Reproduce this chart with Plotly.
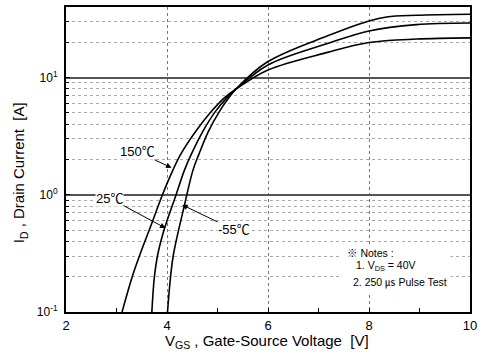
import math
import plotly.graph_objects as go

# Transfer characteristics: drain current vs gate-source voltage
vgs_m55 = [4.01, 4.07, 4.13, 4.35, 4.51, 4.63, 4.82, 5.04, 5.22, 5.38, 6.0, 7.18, 8.0, 8.35, 8.94, 10.0]
id_m55 = [0.1, 0.199, 0.314, 0.831, 1.60, 2.21, 3.48, 5.15, 6.68, 8.11, 13.7, 22.7, 30.4, 32.9, 34.0, 34.7]

vgs_25 = [3.70, 3.75, 3.82, 3.95, 4.18, 4.34, 4.48, 4.71, 4.96, 5.18, 5.39, 6.0, 7.18, 8.0, 8.94, 10.0]
id_25 = [0.1, 0.199, 0.314, 0.515, 1.0, 1.60, 2.21, 3.48, 5.15, 6.68, 8.11, 12.8, 19.5, 25.0, 28.3, 29.2]

vgs_150 = [3.11, 3.31, 3.47, 3.66, 3.91, 4.11, 4.27, 4.57, 4.88, 5.13, 5.39, 6.0, 7.18, 8.0, 8.94, 10.0]
id_150 = [0.1, 0.199, 0.314, 0.515, 1.0, 1.60, 2.21, 3.48, 5.15, 6.68, 8.11, 11.6, 16.4, 19.9, 21.3, 21.8]

x_ticks = [2, 4, 6, 8, 10]
x_minor = [3, 5, 7, 9]
y_ticks = [0.1, 1, 10]
y_ticktext = ["10<sup>-1</sup>", "10<sup>0</sup>", "10<sup>1</sup>"]
y_minor = [0.2, 0.3, 0.4, 0.5, 0.6, 0.7, 0.8, 0.9,
           2, 3, 4, 5, 6, 7, 8, 9,
           20, 30, 40]

FONT = "Liberation Sans, Arial, Noto Sans CJK KR, sans-serif"

fig = go.Figure()
for xs, ys in [(vgs_m55, id_m55), (vgs_25, id_25), (vgs_150, id_150)]:
    fig.add_trace(go.Scatter(
        x=xs, y=ys, mode="lines",
        line=dict(color="black", width=1.6, shape="spline", smoothing=1.0),
        showlegend=False, hoverinfo="skip",
    ))

# temperature labels with arrows pointing to their curves
labels = [
    ("150\u2103", 4.09, 1.70, -34, -16),
    ("25\u2103", 3.97, 0.52, -56, -30),
    ("-55\u2103", 4.30, 0.82, 52, 25),
]
annotations = []
for text, xv, yv, ax, ay in labels:
    annotations.append(dict(
        x=xv, y=math.log10(yv), xref="x", yref="y", text=text,
        showarrow=True, ax=ax, ay=ay, arrowhead=2, arrowsize=1.1,
        arrowwidth=1, arrowcolor="black", bgcolor="white", borderpad=0,
        font=dict(family=FONT, size=13, color="black"),
    ))

# notes box
annotations.append(dict(
    x=0.679, y=0.2215, xref="paper", yref="paper", xanchor="left", yanchor="top",
    text=" ", showarrow=False, width=109, height=48, bgcolor="white", borderpad=0,
))
notes = [
    ("\u203b Notes :", 0.691, 0.195),
    ("1. V<sub>DS</sub> = 40V", 0.713, 0.150),
    ("2. 250 \u33b2 Pulse Test", 0.706, 0.098),
]
for text, xp, yp in notes:
    annotations.append(dict(
        x=xp, y=yp, xref="paper", yref="paper", xanchor="left", yanchor="middle",
        text=text, showarrow=False,
        font=dict(family=FONT, size=10.5, color="black"),
    ))

# axis titles
annotations.append(dict(
    x=0.4975, y=-0.098, xref="paper", yref="paper", xanchor="center", yanchor="middle",
    text="V<sub>GS</sub> , Gate-Source Voltage \u00a0[V]", showarrow=False,
    font=dict(family=FONT, size=15, color="black"),
))
annotations.append(dict(
    x=-0.113, y=0.456, xref="paper", yref="paper", xanchor="center", yanchor="middle",
    text="I<sub>D</sub> , Drain Current \u00a0[A]", showarrow=False, textangle=-90,
    font=dict(family=FONT, size=15, color="black"),
))

fig.update_layout(
    width=482, height=363, autosize=False,
    margin=dict(l=66, r=8, t=5, b=51),
    paper_bgcolor="white", plot_bgcolor="white",
    annotations=annotations,
    xaxis=dict(
        range=[2, 10], tickmode="array", tickvals=x_ticks,
        ticks="inside", ticklen=4, tickcolor="black",
        showline=True, linecolor="black", linewidth=2, mirror=True,
        showgrid=True, gridcolor="#777777", gridwidth=1, griddash="dot",
        zeroline=False,
        minor=dict(tickmode="array", tickvals=x_minor, ticks="inside",
                   ticklen=4, tickcolor="black", showgrid=False),
        tickfont=dict(family=FONT, size=13, color="black"),
    ),
    yaxis=dict(
        type="log", range=[-1, 1.602], tickmode="array",
        tickvals=y_ticks, ticktext=y_ticktext,
        ticks="inside", ticklen=4, tickcolor="black",
        showline=True, linecolor="black", linewidth=2, mirror=True,
        showgrid=True, gridcolor="#555555", gridwidth=2,
        zeroline=False, ticklabelstandoff=4,
        minor=dict(tickmode="array", tickvals=y_minor, ticks="inside",
                   ticklen=3, tickcolor="black", showgrid=True,
                   gridcolor="#aaaaaa", gridwidth=1, griddash="dot"),
        tickfont=dict(family=FONT, size=12, color="black"),
    ),
)

fig.write_html("out.html")
